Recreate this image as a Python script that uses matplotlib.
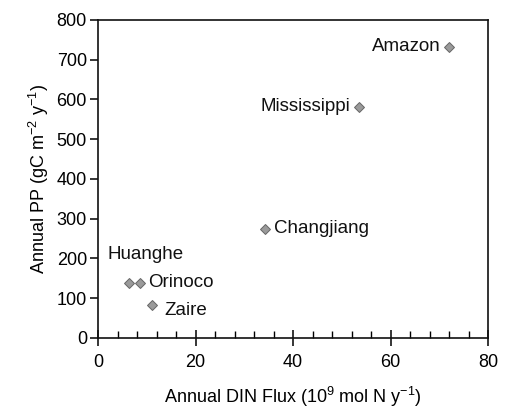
import matplotlib.pyplot as plt
from matplotlib.ticker import MultipleLocator

plt.rcParams['font.family'] = ['Liberation Sans', 'DejaVu Sans']
plt.rcParams['mathtext.default'] = 'regular'

# values
rivers = ['Amazon', 'Mississippi', 'Changjiang', 'Huanghe', 'Orinoco', 'Zaire']
din_flux = [72, 53.5, 34.3, 6.3, 8.6, 11.0]
annual_pp = [733, 582, 275, 137, 138, 83]

# label offsets in points and alignment, one per river
label_offsets = [(-6, 0), (-6, 0), (6, 0), (12, 21), (6, 0), (9, -4)]
label_ha = ['right', 'right', 'left', 'center', 'left', 'left']

fig = plt.figure(figsize=(5.08, 4.15), dpi=100)
ax = fig.add_axes([0.193, 0.186, 0.768, 0.766])

ax.plot(din_flux, annual_pp, linestyle='none', marker='D', markersize=5,
        markerfacecolor='#9a9a9a', markeredgecolor='#666666', markeredgewidth=0.7)

for name, x, y, off, ha in zip(rivers, din_flux, annual_pp, label_offsets, label_ha):
    ax.annotate(name, (x, y), xytext=off, textcoords='offset points',
                ha=ha, va='center', fontsize=13.5, color='#111111')

ax.set_xlim(0, 80)
ax.set_ylim(0, 800)
ax.xaxis.set_major_locator(MultipleLocator(20))
ax.xaxis.set_minor_locator(MultipleLocator(4))
ax.yaxis.set_major_locator(MultipleLocator(100))

ax.tick_params(axis='x', which='major', direction='inout', length=12, width=1.1,
               labelsize=13, pad=6)
ax.tick_params(axis='x', which='minor', direction='in', length=5, width=1.0)
ax.tick_params(axis='y', which='major', direction='out', length=6, width=1.1,
               labelsize=13, pad=2)

for s in ax.spines.values():
    s.set_linewidth(1.2)
    s.set_color('#111111')

ax.set_xlabel('Annual DIN Flux (10$^{9}$ mol N y$^{-1}$)', fontsize=13, labelpad=10)
ax.set_ylabel('Annual PP (gC m$^{-2}$ y$^{-1}$)', fontsize=13, labelpad=4)

fig.savefig('out.png', dpi=100)
